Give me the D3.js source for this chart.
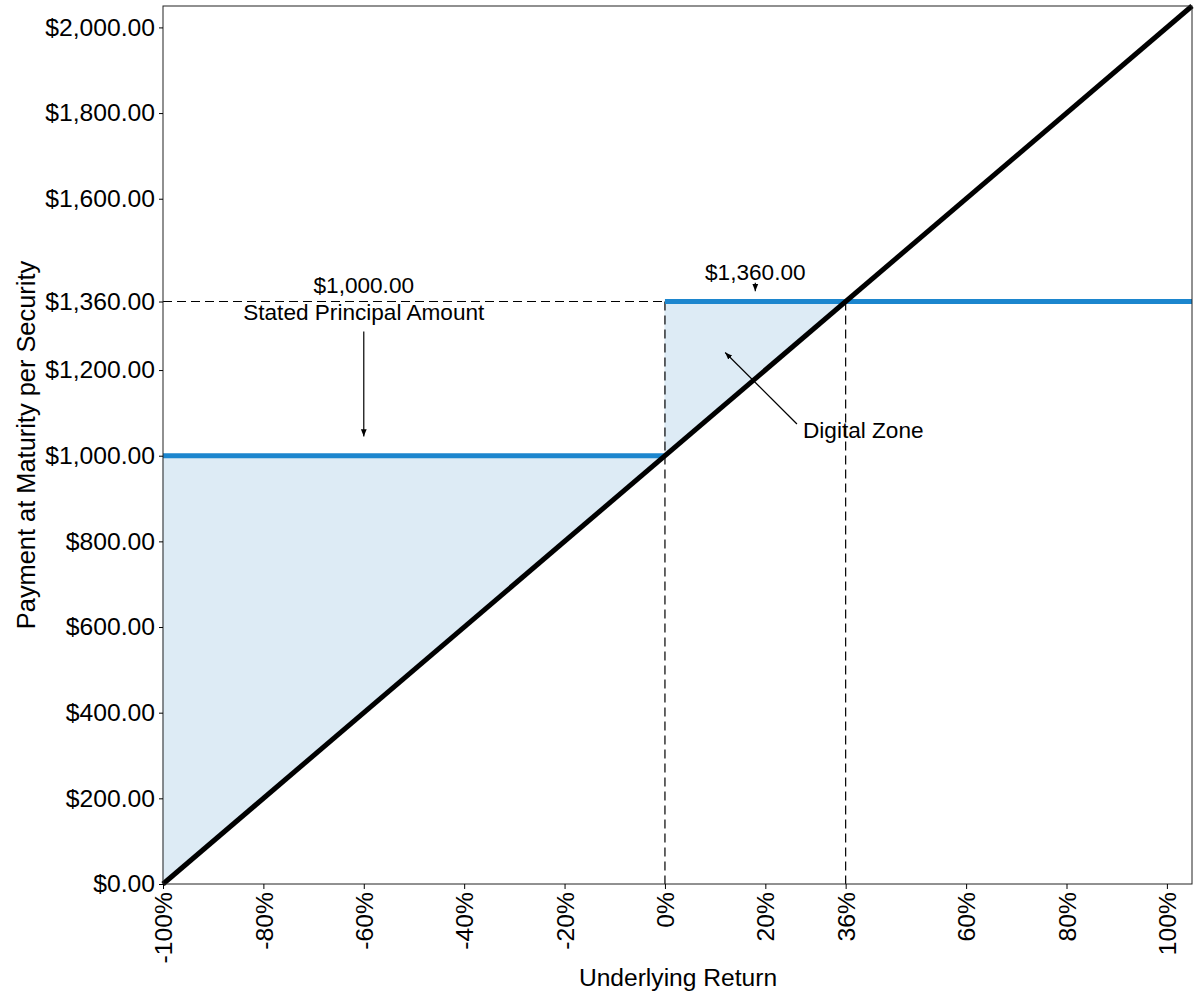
<!DOCTYPE html>
<html>
<head>
<meta charset="utf-8">
<script src="https://cdn.jsdelivr.net/npm/d3@7"></script>
<style>
  body { margin: 0; background: #fff; }
  text { font-family: "Liberation Sans", Arial, sans-serif; fill: #000; }
</style>
</head>
<body>
<svg id="chart"></svg>
<script>
// values
var xTickValues = [-1, -0.8, -0.6, -0.4, -0.2, 0, 0.2, 0.36, 0.6, 0.8, 1];
var yTickValues = [0, 200, 400, 600, 800, 1000, 1200, 1360, 1600, 1800, 2000];
var principal = 1000;
var digitalPayment = 1360;
var digitalReturn = 0.36;
var diagonal = [{ r: -1, v: 0 }, { r: 1.05, v: 2050 }];
var payoffLow = [{ r: -1, v: 1000 }, { r: 0, v: 1000 }];
var payoffHigh = [{ r: 0, v: 1360 }, { r: 1.05, v: 1360 }];
var fillLow = [{ r: -1, lo: 0, hi: 1000 }, { r: 0, lo: 1000, hi: 1000 }];
var fillHigh = [{ r: 0, lo: 1000, hi: 1360 }, { r: 0.36, lo: 1360, hi: 1360 }];

var margin = { top: 6, right: 8, bottom: 116, left: 163 };
var width = 1029;
var height = 878;

var root = d3.select("#chart")
    .attr("width", 1200)
    .attr("height", 1000);

var svg = root.append("g")
    .attr("transform", "translate(" + margin.left + "," + margin.top + ")");

var x = d3.scaleLinear().domain([-1, 1.05]).range([0, width]);
var y = d3.scaleLinear().domain([0, 2050]).range([height, 0]);

var defs = root.append("defs");
defs.append("marker")
    .attr("id", "arrow")
    .attr("viewBox", "0 0 10 10")
    .attr("refX", 10).attr("refY", 5)
    .attr("markerWidth", 6).attr("markerHeight", 6)
    .attr("orient", "auto")
    .append("path")
    .attr("d", "M0,1 L10,5 L0,9 Z")
    .attr("fill", "#000");

// shaded zone between payoff and underlying
var area = d3.area()
    .x(function(d) { return x(d.r); })
    .y0(function(d) { return y(d.lo); })
    .y1(function(d) { return y(d.hi); });

[fillLow, fillHigh].forEach(function(f) {
    svg.append("path")
        .datum(f)
        .attr("d", area)
        .attr("fill", "#ddebf5")
        .attr("stroke", "#ddebf5")
        .attr("stroke-width", 1);
});

// dashed reference lines
var dash = "9,5";
svg.append("line")
    .attr("x1", 0).attr("x2", x(0))
    .attr("y1", y(digitalPayment)).attr("y2", y(digitalPayment))
    .attr("stroke", "#000").attr("stroke-width", 1.2).attr("stroke-dasharray", dash);
svg.append("line")
    .attr("x1", x(0)).attr("x2", x(0))
    .attr("y1", y(digitalPayment)).attr("y2", y(0))
    .attr("stroke", "#000").attr("stroke-width", 1.2).attr("stroke-dasharray", dash);
svg.append("line")
    .attr("x1", x(digitalReturn)).attr("x2", x(digitalReturn))
    .attr("y1", y(digitalPayment)).attr("y2", y(0))
    .attr("stroke", "#000").attr("stroke-width", 1.2).attr("stroke-dasharray", dash);

var line = d3.line()
    .x(function(d) { return x(d.r); })
    .y(function(d) { return y(d.v); });

// payoff at maturity
[payoffLow, payoffHigh].forEach(function(p) {
    svg.append("path")
        .datum(p)
        .attr("d", line)
        .attr("fill", "none")
        .attr("stroke", "#1c86ce")
        .attr("stroke-width", 5);
});

// underlying
svg.append("path")
    .datum(diagonal)
    .attr("d", line)
    .attr("fill", "none")
    .attr("stroke", "#000")
    .attr("stroke-width", 5);

// frame
svg.append("rect")
    .attr("width", width).attr("height", height)
    .attr("fill", "none")
    .attr("stroke", "#222")
    .attr("stroke-width", 1);

// axes
var pct = d3.format(".0%");
var xAxis = svg.append("g")
    .attr("transform", "translate(0," + height + ")")
    .call(d3.axisBottom(x)
        .tickValues(xTickValues)
        .tickSize(5)
        .tickSizeOuter(0)
        .tickFormat(function(d) { return pct(d).replace("\u2212", "-"); }));
xAxis.select(".domain").remove();
xAxis.selectAll("text")
    .attr("transform", "rotate(-90)")
    .attr("x", -8)
    .attr("y", 0)
    .attr("dy", "0.35em")
    .style("text-anchor", "end")
    .style("font-size", "24.7px");

var yAxis = svg.append("g")
    .call(d3.axisLeft(y)
        .tickValues(yTickValues)
        .tickSize(4)
        .tickSizeOuter(0)
        .tickPadding(4)
        .tickFormat(d3.format("$,.2f")));
yAxis.select(".domain").remove();
yAxis.selectAll("text")
    .style("font-size", "24.7px");

// axis titles
root.append("text")
    .attr("x", 678)
    .attr("y", 986)
    .style("text-anchor", "middle")
    .style("font-size", "24.6px")
    .text("Underlying Return");

root.append("text")
    .attr("transform", "translate(35,445) rotate(-90)")
    .style("text-anchor", "middle")
    .style("font-size", "25.4px")
    .text("Payment at Maturity per Security");

// annotations
svg.append("text")
    .attr("x", x(-0.6)).attr("y", y(1380))
    .style("text-anchor", "middle").style("font-size", "22.6px")
    .text("$1,000.00");
svg.append("text")
    .attr("x", x(-0.6)).attr("y", y(1316))
    .style("text-anchor", "middle").style("font-size", "22.6px")
    .text("Stated Principal Amount");
svg.append("line")
    .attr("x1", x(-0.6)).attr("x2", x(-0.6))
    .attr("y1", y(1290)).attr("y2", y(1045))
    .attr("stroke", "#000").attr("stroke-width", 1.2)
    .attr("marker-end", "url(#arrow)");

svg.append("text")
    .attr("x", x(0.18)).attr("y", y(1410))
    .style("text-anchor", "middle").style("font-size", "22.6px")
    .text("$1,360.00");
svg.append("line")
    .attr("x1", x(0.18)).attr("x2", x(0.18))
    .attr("y1", y(1404)).attr("y2", y(1384))
    .attr("stroke", "#000").attr("stroke-width", 1.2)
    .attr("marker-end", "url(#arrow)");

svg.append("text")
    .attr("x", x(0.275)).attr("y", y(1042))
    .style("font-size", "22.6px")
    .text("Digital Zone");
svg.append("line")
    .attr("x1", x(0.263)).attr("y1", y(1074))
    .attr("x2", x(0.12)).attr("y2", y(1241))
    .attr("stroke", "#000").attr("stroke-width", 1.2)
    .attr("marker-end", "url(#arrow)");
</script>
</body>
</html>
